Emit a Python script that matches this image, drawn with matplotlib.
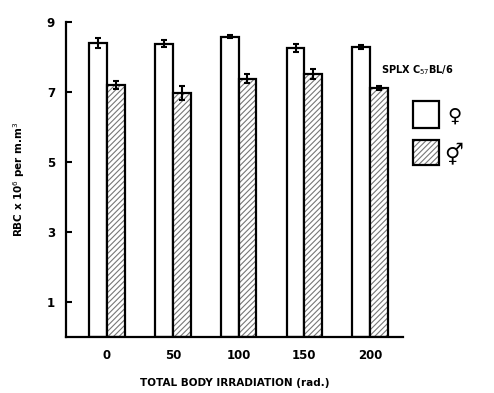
import numpy as np
import matplotlib.pyplot as plt

dose = [0, 50, 100, 150, 200]
female = [8.4, 8.38, 8.58, 8.25, 8.28]
female_err = [0.15, 0.1, 0.05, 0.12, 0.06]
male = [7.2, 6.98, 7.38, 7.52, 7.12]
male_err = [0.12, 0.2, 0.12, 0.15, 0.05]
yticks = [1, 3, 5, 7, 9]

plt.rcParams['hatch.linewidth'] = 0.8
fig = plt.figure(figsize=(4.94, 3.93), dpi=100)
ax = fig.add_axes([0.134, 0.143, 0.682, 0.801])

w = 13.5
x = np.array(dose)
ax.bar(x - w, female, width=w, align='edge', color='white', edgecolor='black', linewidth=1.6)
# hatch drawn in grey, outline on top in black
ax.bar(x, male, width=w, align='edge', color='white', edgecolor='#777777', hatch='//////', linewidth=0)
ax.bar(x, male, width=w, align='edge', color='none', edgecolor='black', linewidth=1.6)
ax.errorbar(x - w / 2, female, yerr=female_err, fmt='none', ecolor='black', elinewidth=1.5, capsize=2.5, capthick=1.5)
ax.errorbar(x + w / 2, male, yerr=male_err, fmt='none', ecolor='black', elinewidth=1.5, capsize=2.5, capthick=1.5)

ax.set_xlim(-31, 225)
ax.set_ylim(0, 9)
ax.set_xticks(dose)
ax.set_xticklabels([str(d) for d in dose], fontsize=8.5, fontweight='bold')
ax.set_yticks(yticks)
ax.set_yticklabels([str(t) for t in yticks], fontsize=8.5, fontweight='bold')
ax.tick_params(axis='x', length=0, pad=9)
ax.tick_params(axis='y', direction='in', length=4, width=1.5, pad=8)
for s in ['top', 'right']:
    ax.spines[s].set_visible(False)
for s in ['left', 'bottom']:
    ax.spines[s].set_linewidth(1.6)

ax.set_xlabel('TOTAL BODY IRRADIATION (rad.)', fontsize=7.5, fontweight='bold', labelpad=11)
ax.set_ylabel('RBC x 10$^6$ per m.m$^3$', fontsize=7.5, fontweight='bold', labelpad=14)

# legend drawn by hand
fig.text(0.772, 0.822, 'SPLX C$_{57}$BL/6', fontsize=7, fontweight='bold', ha='left', va='center')
fig.patches.append(plt.Rectangle((0.836, 0.674), 0.053, 0.069, transform=fig.transFigure,
                                 facecolor='white', edgecolor='black', linewidth=1.6))
fig.patches.append(plt.Rectangle((0.836, 0.58), 0.053, 0.064, transform=fig.transFigure,
                                 facecolor='white', edgecolor='#777777', hatch='//////', linewidth=0))
fig.patches.append(plt.Rectangle((0.836, 0.58), 0.053, 0.064, transform=fig.transFigure,
                                 facecolor='none', edgecolor='black', linewidth=1.6))
fig.text(0.905, 0.705, '\u2640', fontsize=14, fontweight='bold', ha='left', va='center')
fig.text(0.900, 0.607, '\u26a5', fontsize=15, fontweight='bold', ha='left', va='center')

fig.savefig('out.png', dpi=100)
